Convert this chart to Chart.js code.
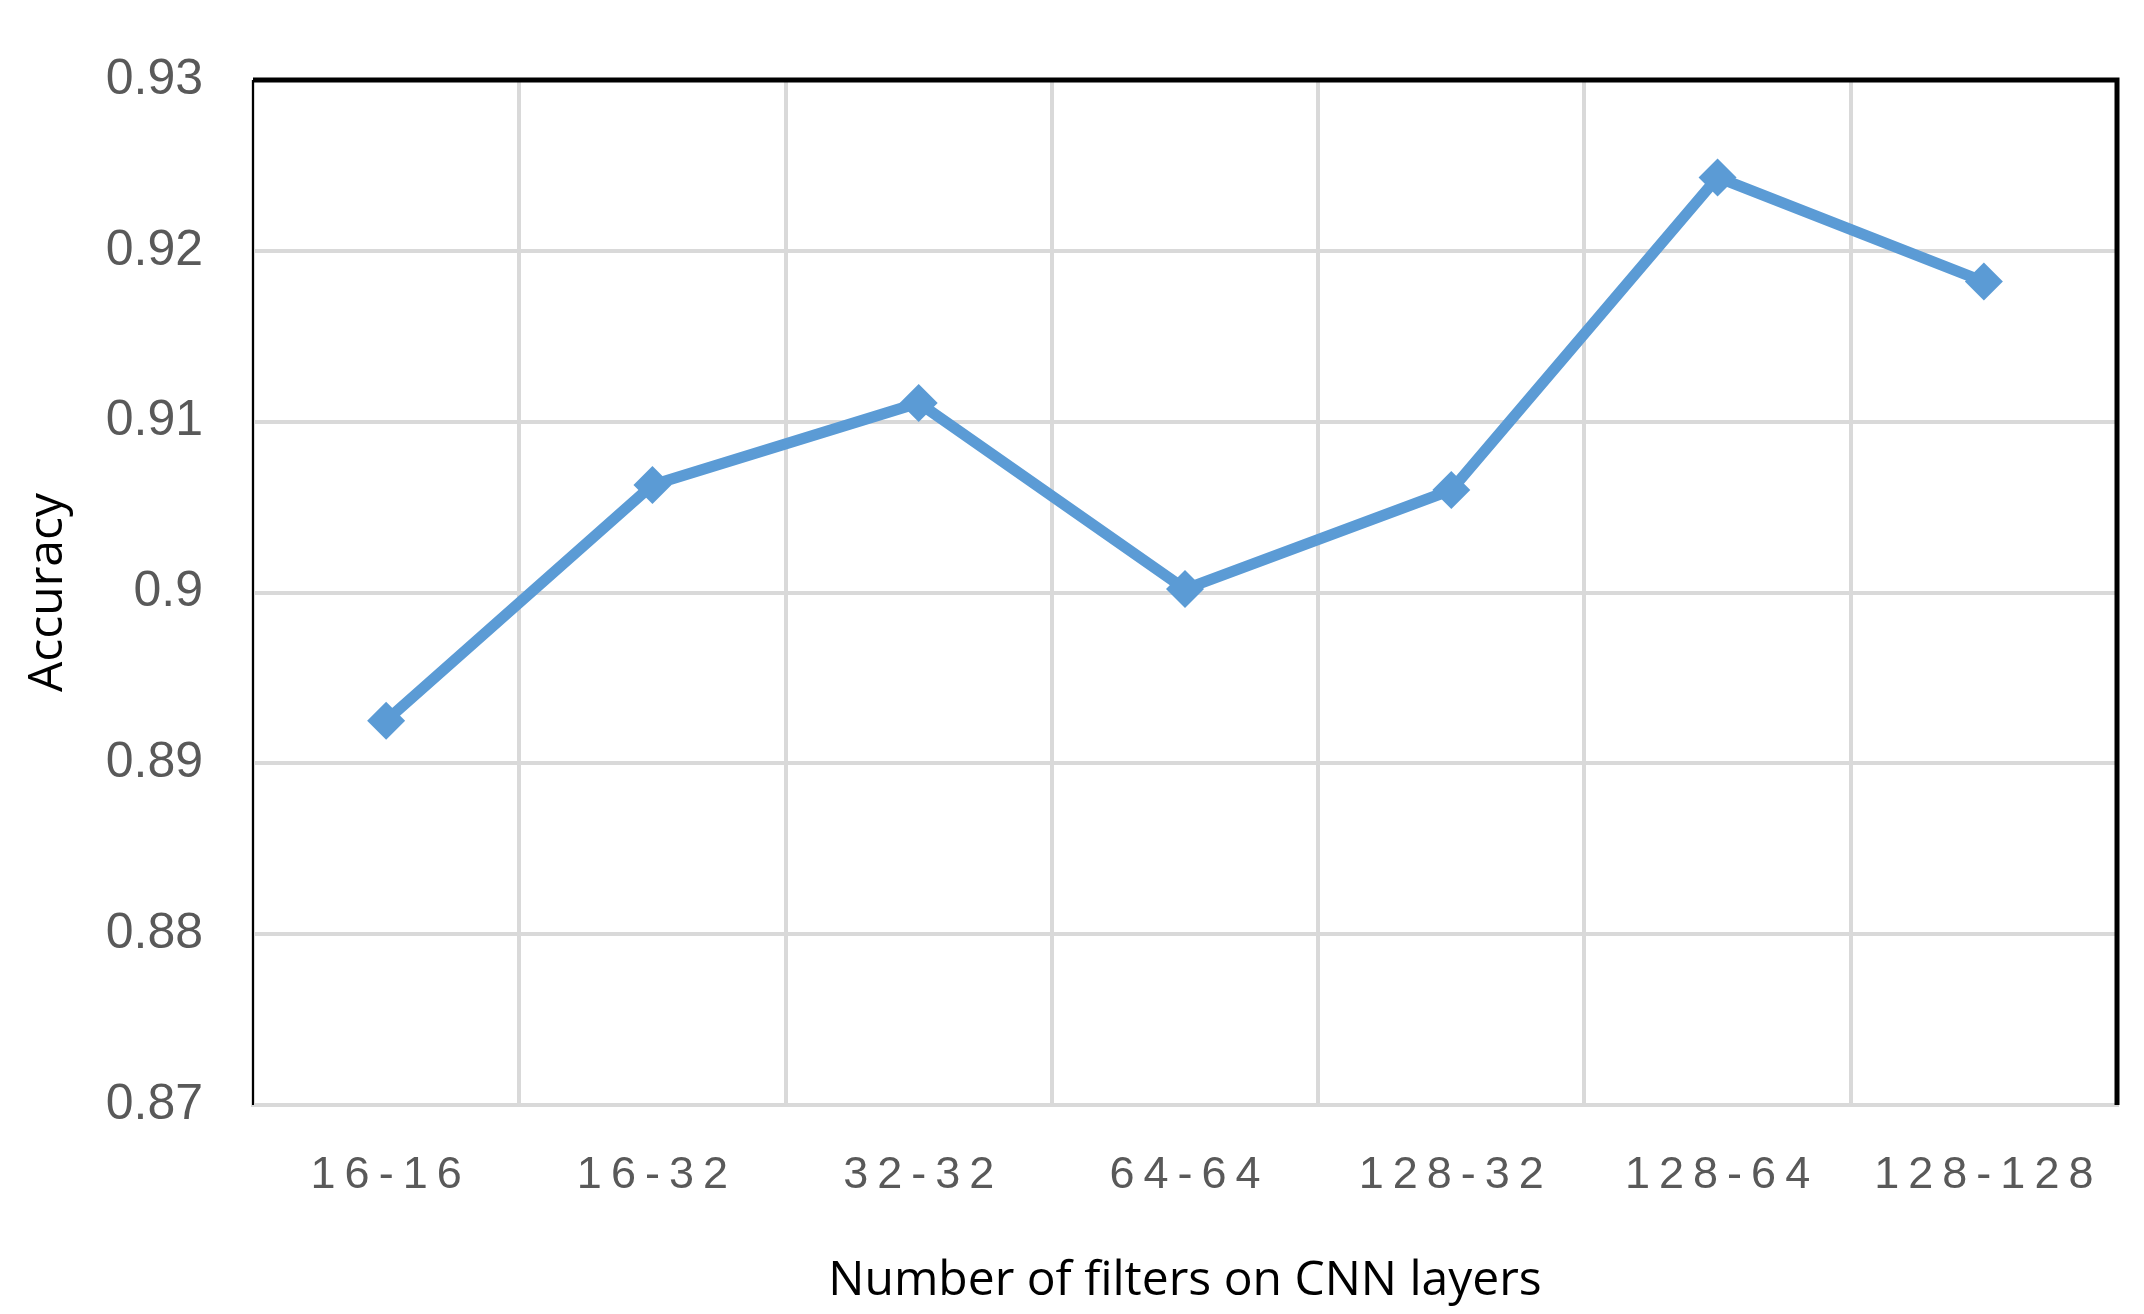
<!DOCTYPE html>
<html>
<head>
<meta charset="utf-8">
<script src="https://cdn.jsdelivr.net/npm/chart.js@4"></script>
<style>
  html, body { margin: 0; padding: 0; background: #fff; }
  #wrap { width: 2144px; height: 1314px; }
</style>
</head>
<body>
<div id="wrap"><canvas id="chart"></canvas></div>
<script>
const categories = ['16-16', '16-32', '32-32', '64-64', '128-32', '128-64', '128-128'];
const accuracy = [0.8925, 0.9063, 0.9111, 0.9002, 0.9060, 0.9243, 0.9182];
const yTicks = [0.87, 0.88, 0.89, 0.9, 0.91, 0.92, 0.93];

// spread the characters a bit, like the original's letter-spaced labels
function spaced(s) {
    return s.split('').join('\u2009');
}

// black frame on top and right of the plot area
const frame = {
    id: 'frame',
    afterDraw(chart) {
        const { ctx, chartArea: a } = chart;
        ctx.save();
        ctx.strokeStyle = '#000';
        ctx.lineWidth = 5;
        ctx.beginPath();
        ctx.moveTo(a.left, a.top);
        ctx.lineTo(a.right, a.top);
        ctx.lineTo(a.right, a.bottom);
        ctx.stroke();
        ctx.lineWidth = 2;
        ctx.beginPath();
        ctx.moveTo(a.left, a.top);
        ctx.lineTo(a.left, a.bottom);
        ctx.stroke();
        ctx.restore();
    }
};

new Chart(document.getElementById('chart'), {
    type: 'line',
    data: {
        labels: categories,
        datasets: [{
            data: accuracy,
            borderColor: '#5B9BD5',
            backgroundColor: '#5B9BD5',
            borderWidth: 11,
            pointStyle: 'rectRot',
            pointRadius: 19,
            pointBorderWidth: 0,
            tension: 0,
            fill: false
        }]
    },
    options: {
        responsive: true,
        maintainAspectRatio: false,
        animation: false,
        layout: { padding: { top: 44, right: 27, left: 0, bottom: 0 } },
        plugins: {
            legend: { display: false },
            tooltip: { enabled: false }
        },
        scales: {
            x: {
                offset: true,
                grid: { offset: true, color: '#d9d9d9', lineWidth: 4, drawTicks: false },
                border: { color: '#d9d9d9', width: 4 },
                ticks: {
                    padding: 44,
                    color: '#595959',
                    font: { family: 'Liberation Sans', size: 45 },
                    maxRotation: 0,
                    callback: (v, i) => spaced(categories[i])
                },
                title: {
                    display: true,
                    text: 'Number of filters on CNN layers',
                    color: '#000',
                    font: { family: 'Open Sans', size: 48 },
                    padding: { top: 20 }
                },
                afterFit: s => { s.height = 209; }
            },
            y: {
                min: 0.87,
                max: 0.93,
                afterBuildTicks: s => { s.ticks = yTicks.map(v => ({ value: v })); },
                grid: { color: '#d9d9d9', lineWidth: 4, drawTicks: false },
                border: { display: false },
                ticks: {
                    padding: 50,
                    color: '#595959',
                    font: { family: 'Liberation Sans', size: 50 },
                    callback: v => String(v)
                },
                title: {
                    display: true,
                    text: 'Accuracy',
                    color: '#000',
                    font: { family: 'Open Sans', size: 48 },
                    padding: { top: 20, bottom: 14 }
                },
                afterFit: s => { s.width = 253; }
            }
        }
    },
    plugins: [frame]
});
</script>
</body>
</html>
